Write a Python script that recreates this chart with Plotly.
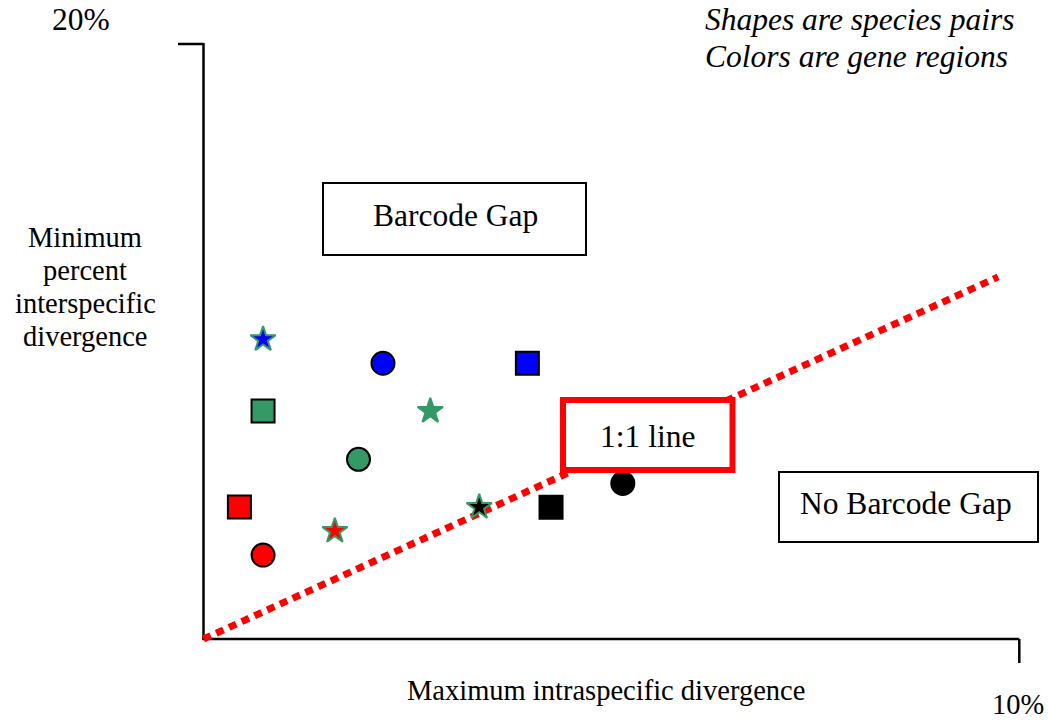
import plotly.graph_objects as go

W, H = 1048, 721

# ---- data (percent divergence) ----
# gene regions (colors) x species pairs (shapes)
blue_x = [0.73, 2.20, 3.97]
blue_y = [10.07, 9.27, 9.27]
blue_sym = ["star", "circle", "square"]

green_x = [0.73, 2.78, 1.90]
green_y = [7.66, 7.66, 6.04]
green_sym = ["square", "star", "circle"]

red_x = [0.44, 1.61, 0.73]
red_y = [4.44, 3.63, 2.82]
red_sym = ["square", "star", "circle"]

black_x = [3.38, 4.26, 5.14]
black_y = [4.43, 4.43, 5.23]
black_sym = ["star", "square", "circle"]

line_x = [0.0, 9.74]
line_y = [0.0, 12.17]

x_max_label = "10%"
y_max_label = "20%"

# ---- pixel geometry ----
X0, X10 = 203.5, 1019.3
Y0, Y20 = 639.0, 44.0
sx = (X10 - X0) / 10.0
sy = (Y0 - Y20) / 20.0
xr = [-X0 / sx, (W - X0) / sx]
yr = [(Y0 - H) / sy, Y0 / sy]


def px(x):
    return x / W


def py(y):
    return 1 - y / H


GREEN = "#339966"
SERIF = "Liberation Serif, Times New Roman, serif"

fig = go.Figure()

# 1:1 dotted line
fig.add_trace(go.Scatter(x=line_x, y=line_y, mode="lines",
                         line=dict(color="#ff0000", width=7, dash="8px,6px"),
                         hoverinfo="skip", showlegend=False))


def add_group(xs, ys, syms, color):
    sizes = []
    lcols = []
    lw = []
    for s in syms:
        if s == "star":
            sizes.append(19)
            lcols.append(GREEN)
        else:
            sizes.append(23)
            lcols.append("#000000")
        lw.append(2)
    fig.add_trace(go.Scatter(x=xs, y=ys, mode="markers",
                             marker=dict(symbol=syms, size=sizes, color=color, opacity=1,
                                         line=dict(color=lcols, width=lw)),
                             opacity=1, showlegend=False))


add_group(blue_x, blue_y, blue_sym, "#0000ff")
add_group(green_x, green_y, green_sym, GREEN)
add_group(red_x, red_y, red_sym, "#ff0000")
add_group(black_x, black_y, black_sym, "#000000")

shapes = []
# axes
shapes.append(dict(type="line", xref="paper", yref="paper", x0=px(X0), x1=px(X0),
                   y0=py(Y0 + 1), y1=py(Y20 - 1), line=dict(color="black", width=2.5), layer="below"))
shapes.append(dict(type="line", xref="paper", yref="paper", x0=px(178), x1=px(X0),
                   y0=py(Y20), y1=py(Y20), line=dict(color="black", width=2.5), layer="below"))
shapes.append(dict(type="line", xref="paper", yref="paper", x0=px(X0 - 1), x1=px(X10),
                   y0=py(Y0), y1=py(Y0), line=dict(color="black", width=2.5), layer="below"))
shapes.append(dict(type="line", xref="paper", yref="paper", x0=px(X10), x1=px(X10),
                   y0=py(Y0), y1=py(663), line=dict(color="black", width=2.5), layer="below"))
# boxes
shapes.append(dict(type="rect", xref="paper", yref="paper", x0=px(323), x1=px(586),
                   y0=py(255), y1=py(183), line=dict(color="black", width=2),
                   fillcolor="white", layer="above"))
shapes.append(dict(type="rect", xref="paper", yref="paper", x0=px(779), x1=px(1038),
                   y0=py(542), y1=py(472), line=dict(color="black", width=2),
                   fillcolor="white", layer="above"))
shapes.append(dict(type="rect", xref="paper", yref="paper", x0=px(563), x1=px(732.5),
                   y0=py(470), y1=py(400), line=dict(color="#ff0000", width=6),
                   fillcolor="white", layer="above"))

ann = []


def txt(t, x, y, size, italic=False, xanchor="center"):
    ann.append(dict(text=t, x=px(x), y=py(y), xref="paper", yref="paper",
                    xanchor=xanchor, yanchor="middle", showarrow=False,
                    font=dict(family=SERIF, size=size, color="black",
                              style="italic" if italic else "normal")))


txt(y_max_label, 81, 20, 31.5)
txt(x_max_label, 1017.5, 704, 28.5)
txt("Maximum intraspecific divergence", 606, 690, 28.5)
for i, t in enumerate(["Minimum", "percent", "interspecific", "divergence"]):
    txt(t, 85, 237 + 33 * i, 28.5)
txt("Shapes are species pairs", 703, 20, 31.5, italic=True, xanchor="left")
txt("Colors are gene regions", 703, 57, 31.5, italic=True, xanchor="left")
txt("Barcode Gap", 455, 216, 31.5)
txt("No Barcode Gap", 906, 503, 31.5)
txt("1:1 line", 647, 437, 31.5)

fig.update_layout(
    width=W, height=H, margin=dict(l=0, r=0, t=0, b=0, pad=0),
    paper_bgcolor="white", plot_bgcolor="white",
    xaxis=dict(range=xr, visible=False, fixedrange=True),
    yaxis=dict(range=yr, visible=False, fixedrange=True),
    shapes=shapes, annotations=ann, showlegend=False,
)

fig.write_html("out.html", config={"displayModeBar": False},
               post_script="document.body.style.margin='0';document.body.style.overflow='hidden';")
